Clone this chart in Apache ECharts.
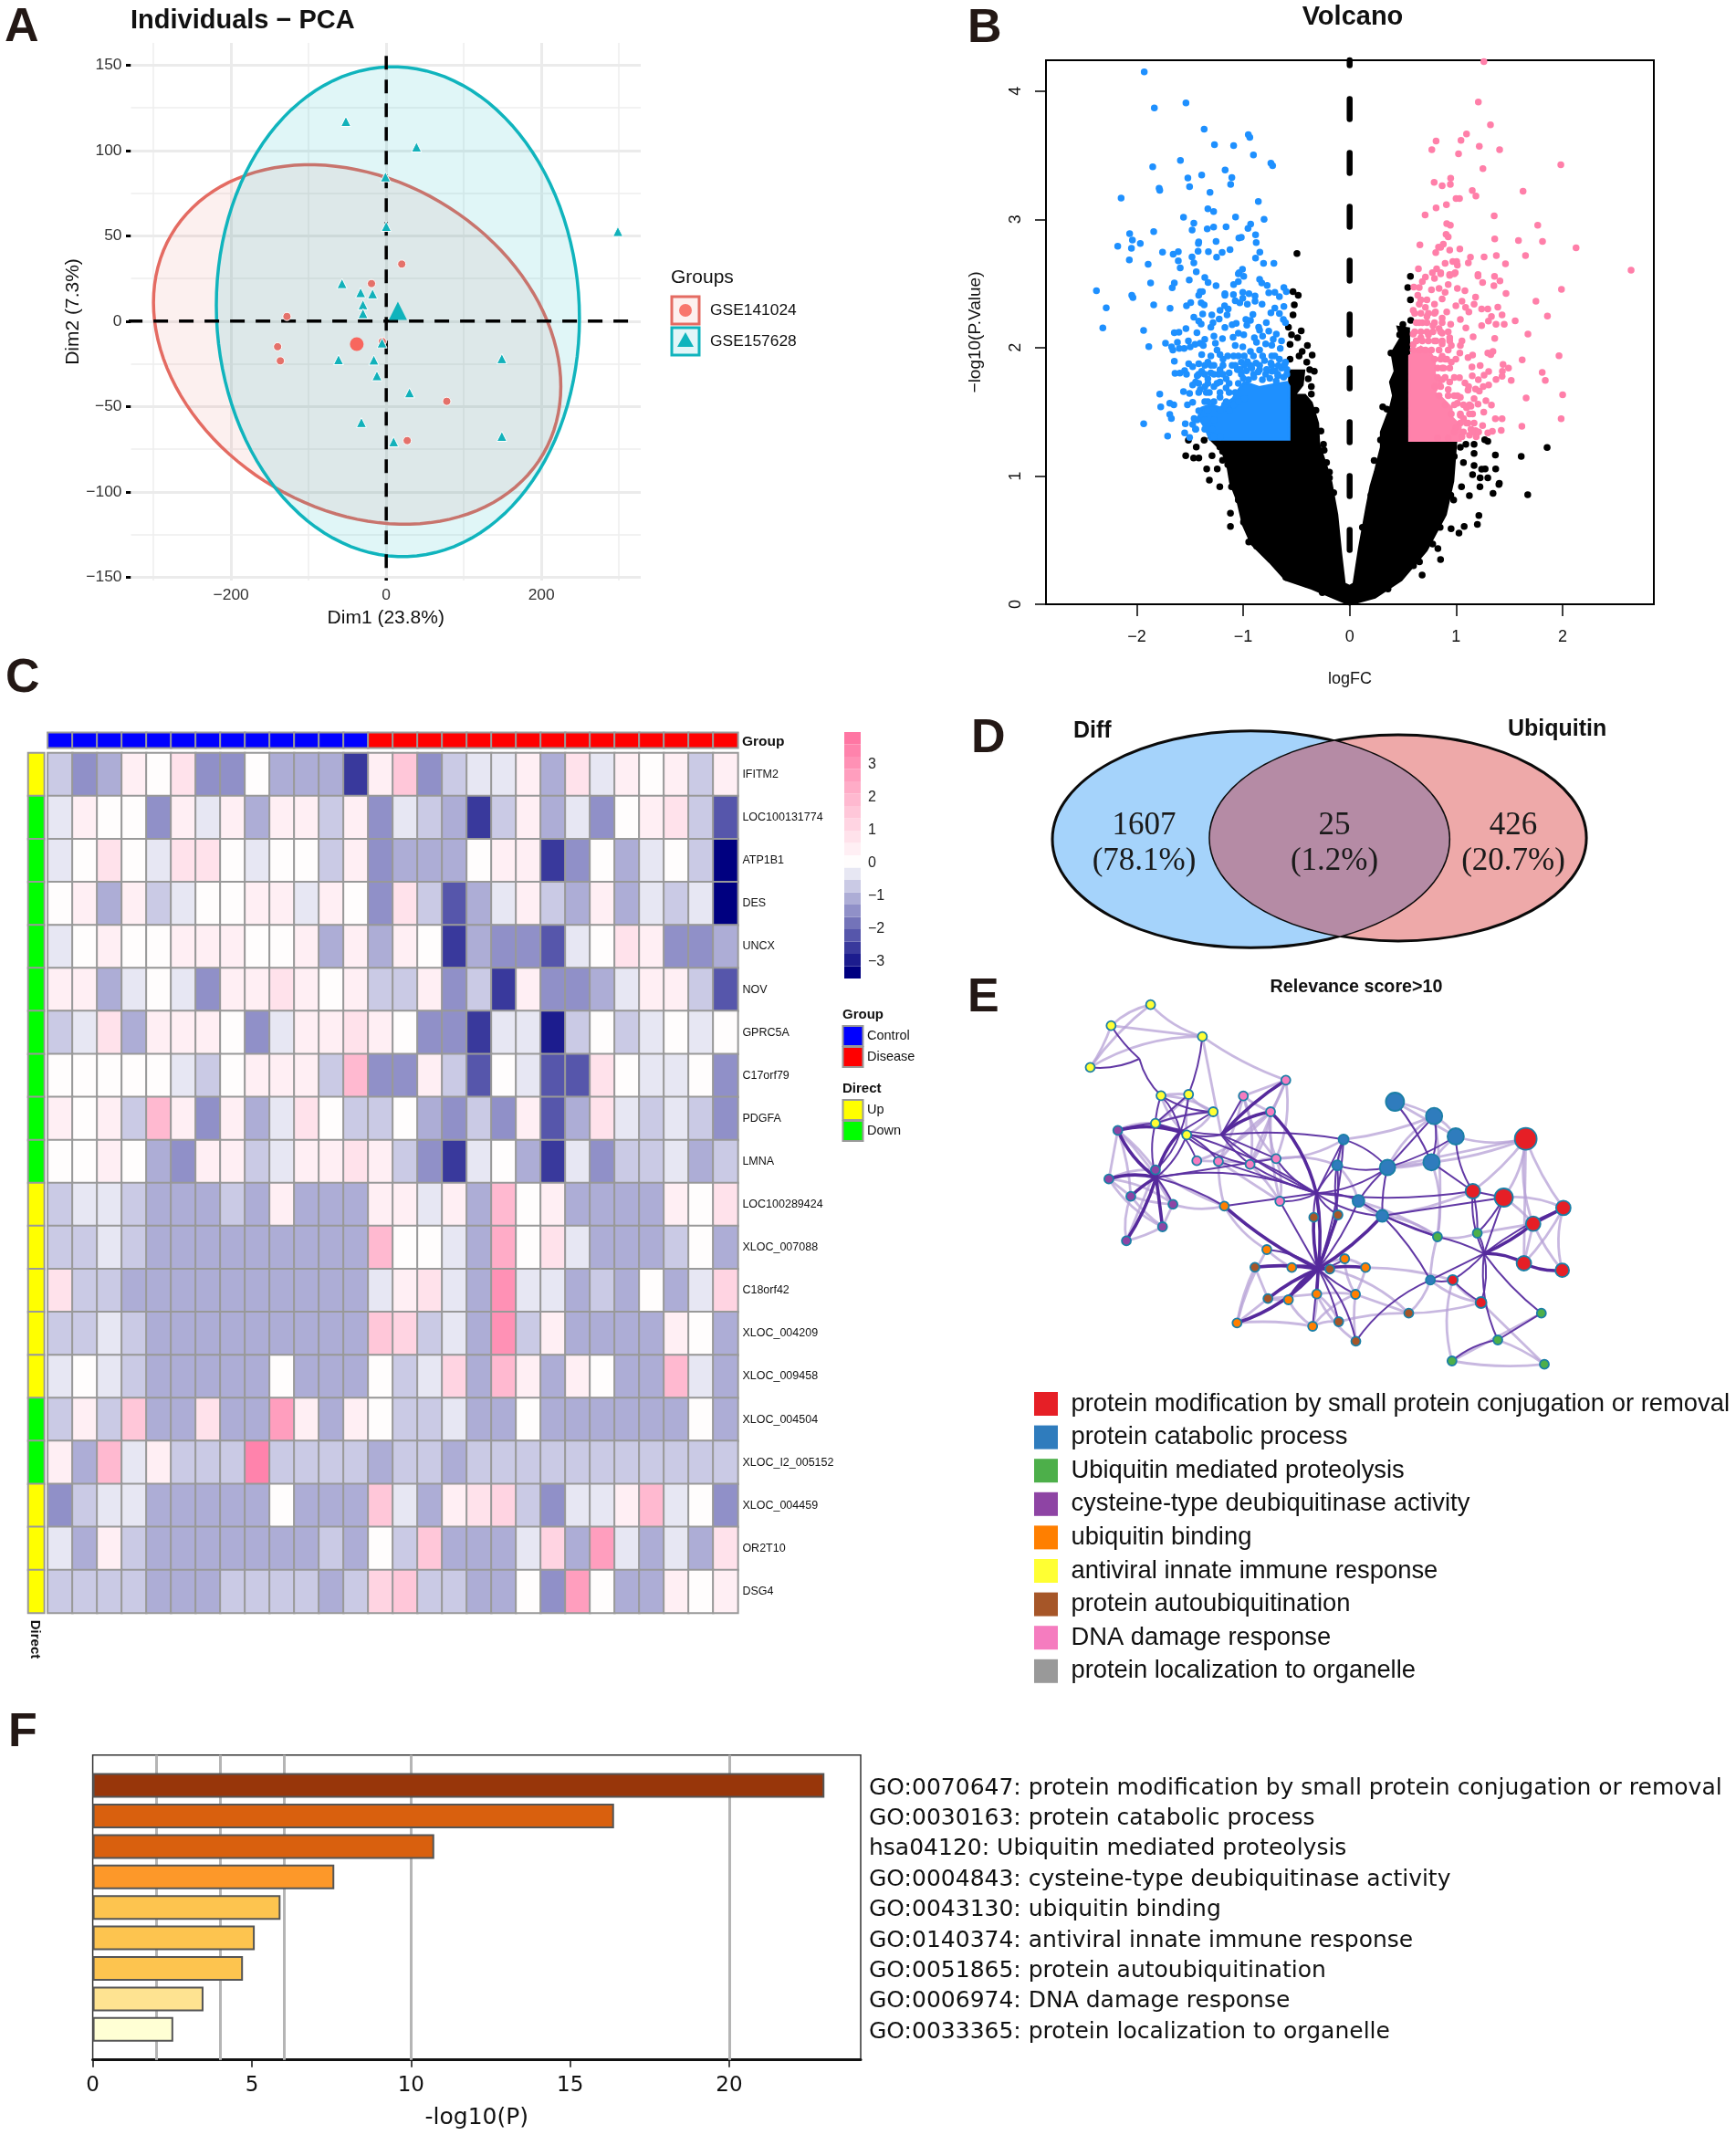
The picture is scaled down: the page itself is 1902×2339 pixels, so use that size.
<!DOCTYPE html>
<html><head><meta charset="utf-8">
<style>html,body{margin:0;padding:0;background:#fff}#c{width:1902px;height:2339px}</style>
<script src="https://cdn.jsdelivr.net/npm/echarts@6/dist/echarts.min.js"></script>
</head><body><div id="c"></div>
<script>
/* ---------- A: PCA ---------- */
/* each ellipse as read: centre x, centre y, half width, half height, phase (deg) */
const pcaRedEllipse=[-37.5,-13.7,262.5,105.3,103.5];
const pcaTealEllipse=[15,5.5,234,143.5,91.5];
const pcaRed=[[20,33.4],[-19,22],[-128,2.7],[-140,-15],[-136.5,-23.3],[-5,-12],[78,-47],[27,-70]];
const pcaRedCentre=[[-38,-13.5]];
const pcaTeal=[[-52,117],[39,102],[-1,84.5],[0,55.5],[298.6,52.5],[-57,22],[-33,16.7],[-17.6,16],[-30,9.6],[-30,4.4],[-5.4,-12.8],[-61.5,-22.6],[-16,-22.8],[149,-22],[-12,-32],[30,-42],[-32,-59.4],[149,-67.5],[9.5,-70.7]];
const pcaTealCentre=[[15,6]];
const pcaXTicks=[-200,0,200], pcaYTicks=[-150,-100,-50,0,50,100,150];
const pcaXMinor=[-300,-100,100,300], pcaYMinor=[-125,-75,-25,25,75,125];

/* ---------- B: Volcano ---------- */
const volBlackMass=[[0,0],[-.355,.124],[-.6,.193],[-.75,.33],[-.92,.47],[-1,.62],[-1.05,.8],[-1.12,.95],[-1.15,1.1],[-1.2,1.2],[-1.31,1.29],[-.569,1.29],[-.565,1.82],[-.43,1.82],[-.445,1.71],[-.52,1.63],[-.42,1.63],[-.36,1.57],[-.3,1.41],[-.29,1.25],[-.23,1.1],[-.175,.95],[-.12,.7],[-.084,.4],[-.05,.16],[0,.14],[.04,.16],[.09,.43],[.16,.75],[.2,.92],[.24,1.033],[.268,1.128],[.297,1.223],[.297,1.342],[.34,1.437],[.383,1.531],[.411,1.626],[.383,1.733],[.426,1.816],[.397,1.958],[.483,2.077],[.454,2.16],[.554,2.148],[.565,1.29],[1,1.29],[.97,.96],[.9,.7],[.72,.42],[.484,.19],[.237,.055]];
const volBlueMass=[[-1.31,1.285],[-1.36,1.38],[-1.42,1.46],[-1.39,1.53],[-1.3,1.555],[-1.22,1.53],[-1.1,1.6],[-1.02,1.7],[-.99,1.73],[-.85,1.69],[-.73,1.71],[-.59,1.73],[-.569,1.7],[-.569,1.285]];
const volPinkMass=[[.563,1.277],[.563,1.935],[.669,2.006],[.755,1.958],[.797,1.911],[.797,1.792],[.869,1.745],[.797,1.65],[.869,1.603],[.955,1.531],[.955,1.46],[1.04,1.389],[1.04,1.277]];
const volBlack=[[-.495,2.733],[.571,2.556],[.546,2.468],[.571,2.373],[.574,2.212],[.311,1.538],[.388,1.958],[1.855,1.221],[1.369,1.164],[1.612,1.152],[1.092,1.247],[1.169,1.247],[1.269,1.282],[1.298,1.27],[1.169,1.176],[1.169,1.081],[1.24,1.052],[1.298,.986],[1.226,.986],[1.406,.943],[1.155,1.01],[1.04,1.223],[.983,1.152],[1.069,1.105],[1.673,.854],[1.402,.934],[1.347,.865],[1.2,.623],[1.214,.692],[1.076,.606],[1.027,.555],[.953,.589],[.854,.348],[.681,.227],[.656,.33],[.829,.434],[.977,.813],[1.051,.916],[1.125,.847],[1.224,.916],[1.372,1.054],[1.273,1.054],[-.676,.296],[-.6,.21],[-.948,.486],[-.874,.451],[-1.12,.606],[-.997,.641],[-1.12,.71],[-1.022,.813],[-1.11,.916],[-1.22,.916],[-1.318,.968],[-1.244,1.054],[-1.343,1.054],[-1.54,1.157],[-1.466,1.14],[-1.417,1.14],[-1.441,1.226],[-1.515,1.278],[-1.367,1.278],[-1.293,1.157],[-1.194,1.123],[-1.219,1.226],[-.532,2.437],[-.483,2.409],[-.52,2.333],[-.532,2.255],[-.575,2.16],[-.455,2.131],[-.546,2.1],[-.489,2.077],[-.56,2.025],[-.397,2.017],[-.446,1.97],[-.352,1.942],[-.475,1.935],[-.56,1.911],[-.403,1.887],[-.332,1.816],[-.375,1.828],[-.389,1.757],[-.36,1.697],[-.36,1.638],[-.317,1.512],[-.246,1.247],[-.217,1.105],[-.19,.986],
[-.948,.606],[-1.046,.813],[-1.096,.985],[-1.145,1.088],[-1.194,1.192],[-.898,.537],[-.8,.4],[-.7,.348],[-.553,.227],[-.405,.158],[-.257,.09],[-.27,1.35],[-.24,1.2],[-.19,1.03],[-.15,.87],[.12,.6],[.2,.85],[.23,1.12],[.29,1.28],[.35,1.52],[.41,1.72],[.95,.85],[.85,.6],[.78,.47],[.6,.3],[.36,.12],[.47,2.1],[.5,2.18]];
const volBlue=[[-1.93,4.149],[-1.835,3.869],[-1.538,3.907],[-1.367,3.703],[-1.27,3.582],[-1.09,3.575],[-.952,3.66],[-.938,3.639],[-.904,3.502],[-1.59,3.459],[-1.85,3.409],[-.74,3.438],[-.724,3.419],[-1.17,3.385],[-1.39,3.345],[-1.52,3.322],[-1.107,3.326],[-1.118,3.272],[-1.504,3.255],[-1.79,3.243],[-1.784,3.226],[-1.312,3.21],[-2.147,3.165],[-.858,3.139],[-1.332,3.082],[-1.278,3.061],[-1.561,3.016],[-1.072,3.018],[-.804,3],[-1.464,2.971],[-.93,2.963],[-.955,2.93],[-1.48,2.916],[-1.338,2.926],[-1.278,2.94],[-1.161,2.942],[-2.067,2.888],[-1.841,2.904],[-.884,2.88],[-1.041,2.854],[-1.018,2.859],[-2.041,2.838],[-1.418,2.824],[-1.421,2.812],[-1.255,2.828],[-.878,2.819],[-1.967,2.812],[-2.179,2.79],[-2.05,2.774],[-1.758,2.745],[-1.658,2.729],[-1.61,2.748],[-1.424,2.752],[-1.327,2.748],[-1.198,2.743],[-1.124,2.764],[-.844,2.745],[-1.481,2.707],[-1.25,2.705],[-.884,2.698],[-2.07,2.684],[-1.61,2.677],[-1.893,2.65],[-1.464,2.66],[-.809,2.658],[-.712,2.658],[-1.592,2.622],[-1.441,2.591],[-1.007,2.61],[-1.038,2.584],
[-2.379,2.444],[-2.287,2.311],[-2.319,2.153],[-2.047,2.409],[-2.036,2.39],[-1.87,2.504],[-1.841,2.333],[-1.687,2.307],[-1.936,2.134],[-1.887,2.008],[-1.647,2.504],[-1.667,2.466],[-1.507,2.527],[-1.361,2.546],[-1.33,2.508],[-1.255,2.482],[-1.533,2.326],[-1.493,2.352],
[-1.404,2.437],[-1.384,2.437],[-1.418,2.409],[-1.395,2.349],[-1.367,2.333],[-1.172,2.42],[-1.172,2.409],[-1.092,2.413],[-1.004,2.432],[-.946,2.42],[-.889,2.402],[-1.004,2.385],[-1.075,2.366],[-1.032,2.349],[-.961,2.338],[-.889,2.361],[-.823,2.338],[-.846,2.532],[-.826,2.504],[-.775,2.485],[-.76,2.428],[-.703,2.432],[-.66,2.397],[-.618,2.468],[-.595,2.437],[-1.046,2.575],[-.995,2.556],[-1.046,2.515],[-1.09,2.492],[-.618,2.321],[-.703,2.309],[-.74,2.271],[-.66,2.266],[-.623,2.219],[-.603,2.195],[-.909,2.259],[-.975,2.219],[-.932,2.212],[-.966,2.176],[-.783,2.195],[-.76,2.129],[-.855,2.16],[-.846,2.136],[-1.175,2.326],[-1.218,2.29],[-1.141,2.302],[-1.152,2.255],[-1.295,2.255],[-1.226,2.224],[-1.284,2.195],[-1.304,2.16],[-1.464,2.238],[-1.381,2.262],[-1.418,2.207],[-1.395,2.184],[-1.172,2.157],[-1.104,2.179],[-1.066,2.19],[-1.538,2.148],[-1.647,2.117],[-1.604,2.12],[-1.435,2.117],[-1.275,2.089],[-1.195,2.07],[-1.261,2.034],[-1.095,2.081],[-1.046,2.112],[-.995,2.1],[-.895,2.077],[-.875,2.041],[-.818,2.089],[-.789,2.03],[-.689,2.105],[-.64,2.053],[-.718,2.065],[-.652,1.994],[-.732,2.018],[-1.73,2.034],[-1.673,2.006],[-1.618,2.041],[-1.661,1.982],[-1.601,1.994],[-1.555,1.994],[-1.515,2.053],[-1.498,2.006],[-1.452,2.025],[-1.404,2.034],[-1.361,2.065],[-1.375,2.017],[-1.39,1.946],[-1.246,1.982],[-1.218,1.946],[-1.075,2.017],[-1.146,1.935],[-1.09,1.935],[-1.004,2.006],[-.932,1.97],[-.846,1.982],[-.732,1.935],[-.66,1.911],[-.603,1.887],[-1.647,1.894],[-1.641,1.8],[-1.595,1.802],[-1.55,1.821],[-1.512,1.875],[-1.475,1.852],[-1.418,1.875],[-1.332,1.887],[-1.275,1.863],[-1.218,1.828],[-1.132,1.804],[-1.055,1.828],[-1.046,1.935],[-1.561,1.657],[-1.504,1.643],[-1.784,1.638],[-1.775,1.538],[-1.69,1.567],[-1.652,1.555],[-1.524,1.555],[-1.475,1.574],[-1.69,1.479],[-1.675,1.448],[-1.935,1.406],[-1.71,1.311],[-1.544,1.406],[-1.55,1.335],[-1.504,1.3],[-1.461,1.448],[-1.475,1.401],[-1.447,1.365],[-1.447,1.733],[-1.475,1.709],[-1.404,1.674],[-1.432,1.78],[-1.332,1.757],[-1.218,1.733],[-1.161,1.686],[-1.318,1.65],[-1.218,1.614],[-1.332,1.579],[-1.175,1.555],[-1.09,1.555],[-.989,1.602],[-.932,1.863],[-.846,1.828],[-.732,1.816],[-.675,1.78],[-1.36,1.697],[-1.275,1.697],[-1.39,1.816],[-1.304,1.804],[-1.232,1.792],[-1.16,1.757],[-1.104,1.863],[-1.018,1.887],[-1.304,1.935],[-1.19,1.911],
[-.99,1.935],[-.904,1.935],[-.818,1.935],[-.703,1.935],[-1.361,1.863],[-1.304,1.863],[-1.19,1.863],[-1.075,1.863],[-.99,1.863],[-.846,1.863],[-.732,1.863],[-1.533,1.792],[-1.418,1.792],[-1.361,1.792],[-1.275,1.792],[-1.19,1.792],[-1.018,1.792],[-.903,1.792],[-.789,1.792],[-.675,1.792],[-.59,1.792],[-1.418,1.721],[-1.332,1.721],[-1.246,1.721],[-1.132,1.721],[-1.046,1.721],[-1.418,1.65],[-1.347,1.65],[-1.218,1.65],[-1.132,1.65],[-1.075,1.65],[-1.361,1.579],[-1.275,1.579],[-1.16,1.579],[-1.046,1.579],[-1.418,1.508],[-1.332,1.508],[-1.218,1.508],[-1.132,1.508],[-1.432,1.437],[-1.361,1.437],[-1.275,1.437],[-1.447,1.365],[-1.361,1.365],[-1.29,1.365],[-1.275,1.306],[-1.218,1.306],
[-1,1.76],[-.95,1.75],[-.9,1.77],[-.82,1.75],[-.75,1.76],[-.69,1.74],[-.62,1.77],[-1.03,1.83],[-.97,1.82],[-.92,1.84],[-.86,1.81],[-.78,1.83],[-.7,1.82],[-.64,1.84],[-.59,1.83],[-.96,1.89],[-.88,1.88],[-.8,1.9],[-.74,1.88],[-.67,1.86],[-.61,1.87]];
const volPink=[[1.261,4.229],[1.209,3.914],[1.323,3.736],[1.098,3.665],[1.046,3.615],[.812,3.61],[.772,3.542],[1.218,3.57],[1.409,3.542],[1.023,3.511],[1.252,3.395],[1.984,3.426],[.949,3.321],[.794,3.288],[.869,3.262],[.946,3.272],[1.152,3.224],[1.186,3.182],[1.629,3.22],[1,3.163],[1.032,3.163],[.909,3.115],[.812,3.089],[.709,3.035],[1.358,3.027],[.912,2.966],[.946,2.954],[1.767,2.954],[.906,2.883],[.926,2.864],[1.363,2.847],[1.586,2.835],[1.812,2.828],[2.127,2.778],[.66,2.802],[.88,2.807],[.835,2.783],[.855,2.781],[.809,2.741],[.94,2.76],[1.035,2.769],[1.135,2.705],[1.263,2.707],[1.378,2.717],[1.652,2.717],[.969,2.672],[1.006,2.672],[1.012,2.643],[.897,2.657],[1.115,2.66],[1.464,2.653],[.646,2.615],[.817,2.615],[2.644,2.603],[.777,2.584],[.855,2.584],[.992,2.584],[.94,2.57],[1.206,2.57],
[.712,2.551],[.683,2.515],[.654,2.468],[.603,2.473],[.797,2.539],[.855,2.575],[.94,2.563],[.983,2.575],[1.206,2.558],[1.361,2.556],[1.412,2.52],[1.249,2.508],[1.355,2.482],[1.99,2.454],[1.469,2.423],[.926,2.492],[.84,2.461],[.769,2.451],[.897,2.432],[1.012,2.461],[1.083,2.444],[1.183,2.394],[.64,2.409],[.726,2.373],[.869,2.38],[1.75,2.361],[1.055,2.361],[.998,2.326],[1.169,2.338],[1.089,2.314],[1.12,2.278],[1.24,2.302],[1.298,2.302],[1.392,2.316],[1.432,2.255],[1.858,2.247],[.597,2.29],[.654,2.338],[.806,2.278],[.912,2.278],[.869,2.231],[1.332,2.243],[1.304,2.207],[1.555,2.209],[1.04,2.219],[1.375,2.183],[1.452,2.183],[1.24,2.172],[1.092,2.153],[.626,2.195],[.949,2.183],[1.675,2.105],[.597,2.105],[1.16,2.084],[1.363,2.072],[1.055,2.053],[1.04,2.017],[.597,2.024],[.869,2.112],[.94,2.077],[.955,2.017],[1.326,1.946],[1.298,1.958],[1.346,1.97],[1.035,1.958],[1.155,1.942],[1.112,1.923],[1.967,1.937],[1.621,1.904],[.897,1.911],[.955,1.887],[1.226,1.861],[1.149,1.849],[1.441,1.87],[1.492,1.84],[1.435,1.816],[1.306,1.814],[1.263,1.785],[1.152,1.78],[1.809,1.807],[1.432,1.776],[1.375,1.752],[1.209,1.75],[1.838,1.745],[1.518,1.745],[1.032,1.766],[1.083,1.726],[.869,1.75],[.94,1.733],[1.306,1.709],[1.255,1.697],[1.118,1.697],[1.183,1.678],[1.112,1.669],[1.218,1.662],[1.658,1.607],[2.001,1.633],[1.169,1.603],[1.28,1.586],[1.332,1.553],[1.206,1.56],[1.14,1.543],[1.098,1.531],[1.04,1.614],[.983,1.626],[.926,1.674],[1.012,1.567],[1.26,1.498],[1.155,1.484],[1.04,1.472],[1.069,1.448],[1.369,1.446],[1.432,1.446],[1.987,1.446],[1.249,1.392],[1.618,1.387],[1.424,1.356],[1.341,1.349],[1.298,1.335],[1.112,1.413],[1.14,1.365],[1.183,1.353],[1.055,1.306],[1.189,1.306],[1.126,1.318],[.998,1.377],
[.726,2.243],[.783,2.172],[.683,2.195],[.74,2.1],[.669,2.077],[.812,2.053],[.712,2.314],[.797,2.338],[.669,2.373],[.84,2.148],[.626,2.053],[.869,2.03],[.926,1.982],[.869,1.84],[.869,1.934],
[.611,2.267],[.669,2.267],[.74,2.267],[.797,2.267],[.654,2.195],[.726,2.195],[.797,2.195],[.869,2.195],[.611,2.124],[.669,2.124],[.726,2.124],[.783,2.124],[.854,2.124],[.926,2.124],[.626,2.053],[.683,2.053],[.74,2.053],[.797,2.053],[.869,2.053],[.94,2.053],[.597,1.982],[.654,1.982],[.712,1.982],[.769,1.982],[.84,1.982],[.797,1.911],[.855,1.911],[.912,1.911],[.998,1.911],[.826,1.84],[.883,1.84],[.94,1.84],[.826,1.768],[.897,1.768],[.983,1.768],[.8,1.697],[.855,1.697],[.84,1.626],[.926,1.626],[1.012,1.626],[.897,1.555],[.983,1.555],[1.069,1.555],[1.126,1.555],[.955,1.484],[1.04,1.484],[1.126,1.484],[1.04,1.413],[1.098,1.413],[1.169,1.413],[.983,1.342],[1.069,1.342],[1.155,1.342],[1.212,1.342],[.826,1.294],[.926,1.294]];
const volXTicks=[-2,-1,0,1,2], volYTicks=[0,1,2,3,4];

/* ---------- C: Heatmap ---------- */
const geneNames=['IFITM2','LOC100131774','ATP1B1','DES','UNCX','NOV','GPRC5A','C17orf79','PDGFA','LMNA','LOC100289424','XLOC_007088','C18orf42','XLOC_004209','XLOC_009458','XLOC_004504','XLOC_I2_005152','XLOC_004459','OR2T10','DSG4'];
const heatRows=[
[-.6,-1.3,-1,.4,.1,.8,-1.3,-1.6,.1,-1,-1,-.9,-2.4,.4,1.6,-1.6,-.6,-.2,-.2,.4,-1,.7,-.2,.4,.1,.4,-.6,.6],
[-.2,.4,.1,.1,-1.6,.6,-.2,.6,-1,.6,.6,-.6,.6,-1.6,-.2,-.6,-1,-2.4,-.6,.4,-1,-.2,-1.3,.1,.4,1,-.6,-2],
[-.2,.1,1,.1,-.2,.7,.7,.1,-.2,.1,.1,-.6,.4,-1.3,-1,-1,-1,.1,.6,.5,-2.4,-1.3,.1,-1,-.2,.1,-.6,-3.3],
[.1,.4,-1,.4,-.6,-.2,.1,.1,.4,.4,-.2,.6,.1,-1.3,1,-.6,-2,-1,-.2,.4,-.6,-1,.4,-1,-.2,-.6,-.2,-3.45],
[-.2,.1,.3,.1,.1,.6,.6,.4,.1,.1,.6,-1,.3,-1,.3,.1,-2.4,-1,-1.3,-1.6,-2,-.2,.1,1,.3,-1.3,-1.3,-1.2],
[.3,.4,-1,-.2,.1,-.2,-1.6,.6,.3,.9,.6,.1,.6,-.6,-.6,.3,-1.3,-.6,-2.4,.3,-1.6,-1.3,-1,-.2,.3,.3,-.6,-2],
[-.6,-.2,1,-1,.6,.3,.3,.1,-1.6,-.2,.3,.3,.7,.3,.1,-1.6,-1.3,-2.4,-.2,-.2,-2.9,-.6,.1,-.6,-.2,.1,-.2,.1],
[.1,.1,.1,.1,.1,-.2,-.6,.1,.3,.3,.4,-.6,2.1,-1.3,-1.3,.3,-.6,-2,.1,-.2,-2.2,-2,.7,.1,-.2,-.2,.1,-1.6],
[.3,.1,.6,-.6,1.9,.3,-1.3,.6,-1,-.2,.8,.1,-.6,-.6,.1,-1,-1.6,-.6,-1.6,.3,-2,-1,1,-.2,-.6,-.2,-.6,-1.6],
[.1,.1,.6,.1,-1,-1.3,.5,.6,-.6,-.2,.6,.3,1,.6,-.6,-1.6,-2.4,-.2,.1,-1,-2.4,-.2,-1.3,-.6,-.6,-.2,-1,-.6],
[-.6,-.2,-.2,-.6,-1.2,-1.2,-1.2,-.6,-1.2,.3,-1.2,-1.2,-1,.6,.6,-.2,.3,-1.2,2.1,.1,.3,-1.2,-1.2,-1,-1,.3,.1,1],
[-.6,-.6,-.2,-.6,-1,-1,-1,-.9,-.9,-.9,-.9,-.9,-.9,2.1,.1,.1,-.2,-1,2.5,.1,1,-.2,-.9,-.9,-.9,-.6,.1,-.9],
[.7,-.6,-.6,-.9,-.9,-.9,-.9,-.9,-.9,-.9,-.9,-.9,-.9,-.2,.6,1,-.2,-.9,3,-.2,-.2,-.9,-.6,-.9,.1,-.9,-.2,1.2],
[-.6,-.6,-.2,-.6,-.9,-.9,-.9,-.9,-.9,-.9,-.9,-.9,-.9,1.4,1.3,-.6,-.2,-.9,3,-.6,.3,-.9,-.9,-.9,-.9,.3,.1,-.9],
[-.2,.1,-.2,-.6,-.9,-.9,-.9,-.9,-.9,.05,-.9,-.9,-.9,.05,-.6,-.2,1.1,-.9,2,.3,-.9,.6,.1,-.9,-.9,2,-.2,-.9],
[-.6,.6,-.6,1.5,-.9,-.9,1,-.9,-.9,2.6,.6,-.9,.3,.1,-.6,-.6,-.2,-.9,-.9,.1,-.9,-.9,-.9,-.9,-.9,-.9,.1,-.9],
[.3,-.9,1.9,-.2,.6,-.6,-.6,-.6,3.6,-.6,-.6,-.6,-.6,-.9,-.6,-.6,-.9,-.6,-.6,-.6,-.6,-.6,-.6,-.6,-.6,-.6,-.6,-.6],
[-1.3,-.6,-.2,-.2,-.9,-.9,-.9,-.9,-.9,.05,-.9,-.9,-.9,1.5,-.2,-.9,.3,1,1.1,-.6,-1.3,-.2,-.2,.3,2,-.2,.1,-1.3],
[-.2,-.9,.6,-.6,-.9,-.9,-.9,-.9,-.9,-.9,-.9,-.6,-.9,.1,-.6,1.5,-.9,-.9,-.9,-.2,1.2,-.9,2.8,-.2,-.9,-.2,-.9,1],
[-.6,-.6,-.6,-.6,-.9,-.9,-.9,-.6,-.6,-.6,-.6,-.9,-.6,1.1,1.6,-.6,-.6,-.9,-.9,.05,-1.3,2.8,.05,-.9,-.9,.3,.1,.3]];
const sampleGroup=['Control','Control','Control','Control','Control','Control','Control','Control','Control','Control','Control','Control','Control','Disease','Disease','Disease','Disease','Disease','Disease','Disease','Disease','Disease','Disease','Disease','Disease','Disease','Disease','Disease'];
const geneDirect=['Up','Down','Down','Down','Down','Down','Down','Down','Down','Down','Up','Up','Up','Up','Up','Down','Down','Up','Up','Up'];
const scaleTicks=[-3,-2,-1,0,1,2,3];

/* ---------- E: network ---------- */
const enrichGroups=['protein modification by small protein conjugation or removal','protein catabolic process','Ubiquitin mediated proteolysis','cysteine-type deubiquitinase activity','ubiquitin binding','antiviral innate immune response','protein autoubiquitination','DNA damage response','protein localization to organelle'];
const netNodes=[
['y1',320,62,5],['y2',214,131,5],['y3',459,167,5],['y4',158,268,5],['y5',348,361,5],['y6',422,357,5],['y7',488,414,5],['y8',333,452,5],['y9',417,490,5],
['k1',683,310,7],['k2',569,362,7],['k3',642,414,7],['k4',444,575,7],['k5',502,577,7],['k6',587,587,7],['k7',657,568,7],['k8',667,708,7],
['p1',232,475,3],['p2',208,635,3],['p3',267,692,3],['p4',380,718,3],['p5',352,792,3],['p6',255,838,3],['p7',333,605,3],
['o1',518,724,4],['o2',632,867,4],['o3',699,926,4],['o4',841,897,4],['o5',897,926,4],['o6',870,1014,4],['o7',766,1013,4],['o8',690,1032,4],['o9',552,1108,4],['o10',755,1119,4],
['b1',758,761,6],['b2',823,753,6],['b3',600,925,6],['b4',801,931,6],['b5',635,1028,6],['b6',825,1104,6],['b7',871,1168,6],['b8',1013,1076,6],
['u1',838,505,1],['u2',821,590,1],['u3',976,381,1],['u4',1081,428,1],['u5',1139,495,1],['u6',1074,580,1],['u7',956,597,1],['u8',878,707,1],['u9',942,756,1],['u10',1071,967,1],
['g1',1090,825,2],['g2',1197,813,2],['g3',1369,1076,2],['g4',1252,1164,2],['g5',1129,1233,2],['g6',1377,1244,2],
['r1',1327,503,0],['r2',1185,675,0],['r3',1268,696,0],['r4',1428,730,0],['r5',1347,782,0],['r6',1322,912,0],['r7',1425,935,0],['r8',1131,967,0],['r9',1207,1041,0],
['hA',290,240,-1],['hB',400,480,-1],['hC',335,630,-1],['hD',510,490,-1],['hE',765,682,-1],['hF',770,930,-1],['hG',1215,880,-1]];
const netNodeSize={u3:20,u4:18,u5:18,u6:18,u7:17,u8:13,u9:13,u1:11,u2:11,r1:24,r2:16,r3:20,r4:16,r5:16,r6:16,r7:15,r8:11,r9:12};
const netStrong='hF-o3 hF-b3 hF-b4 hF-o5 hF-o9 hF-o8 hF-b5 hF-o7 hE-hF hC-p1 hC-p2 hC-p3 hC-p5 hC-p6 hG-r6 r6-r7 hG-r5 r4-r5 hD-k1 hD-k3 hE-k3 o1-hF hF-b2 hF-b1 hC-hB hB-p1 hF-u9'.split(' ');
const netDark='hF-o4 hF-o6 hF-o10 hF-b6 hF-b7 hF-o2 hE-b1 hE-u1 hE-u2 hE-u8 hE-u9 hE-r2 hE-o1 hE-hD hE-k8 hE-b2 hF-u8 k8-hF hC-p4 hC-p7 hB-y5 hB-y6 hB-y7 hB-y8 hB-y9 hB-hD y8-hD hD-k2 hA-y2 hA-y4 hA-y5 y6-y3 hC-k7 hC-o1 u1-u7 u2-u7 u7-u5 u7-u4 u3-u6 u4-u6 u5-r2 u7-u9 hG-r3 hG-r4 hG-r2 hG-g2 hG-g1 hG-u10 hG-r8 hG-r9 hG-g4 hG-g3 g4-g3 u9-u10 b7-u10 u10-r8 r8-r9 r2-r3 r2-g2 g5-g4 u1-b2 u1-hD u9-g1 hB-k4 hB-k5 hB-k6 hD-k6 hD-k7 hB-hE hC-hE k7-hE k6-hE k5-hE y8-y7 hB-p7 hE-u7 u7-u8 u6-r2 u1-hF u2-hF y5-y7 y5-y8 y6-y8 p1-y8 hC-y8 hC-y9 u8-g1 u9-r3 r3-g2'.split(' ');
const netLight='y1-y2 y1-y4 y2-y3 y2-y4 y4-y3 y1-y3 y3-k1 y3-hD y5-y6 y5-y7 y6-y7 y7-y8 y8-y9 y6-y8 y7-y9 y5-y9 y6-y9 k1-k2 k1-k3 k1-k7 k3-k7 k2-k3 k4-k5 k5-k6 k6-k7 k4-k3 k5-o1 k5-k8 k6-k8 k7-k8 k6-k3 k3-k5 k1-k6 k2-k5 k2-k6 k2-k7 k3-k8 p1-p2 p1-p7 p2-p7 p3-p6 p3-p5 p4-p5 p5-p6 p1-y8 p4-o1 p7-o1 p2-p3 p1-p3 p2-p4 p2-p5 p3-p4 p6-p7 p1-p4 p4-p7 o1-o2 o2-o9 o3-o4 o9-o10 o10-o6 o8-o10 b3-o9 b5-o7 o5-o6 b4-b8 b8-u10 o2-o3 b3-b5 o8-b5 o4-o5 o4-o6 o6-o7 o9-b5 b7-o6 b7-o7 b6-o7 o10-o7 u1-u2 u3-u4 u4-u5 u5-r1 u6-r1 u7-r1 r1-r2 r1-r3 r1-r5 r1-r4 r1-r6 r3-r5 r3-r4 r4-r7 r5-r7 r5-r6 r4-r6 u1-k7 u2-k7 u1-u4 u7-u6 u4-g1 u6-g1 g1-g2 g1-u10 g2-r5 u8-g1 u9-g1 r8-r9 g5-g6 g5-g3 g4-g6 g5-r8 u10-r9 b8-r9 g6-r9 o5-r8 u2-u8 u8-u9 u9-r2 o6-b8 b6-b8 o10-b6 u4-u7 u5-u6 u3-u5 u6-u7'.split(' ');

/* ---------- F: enrichment bars ---------- */
const termLabels=['GO:0070647: protein modification by small protein conjugation or removal','GO:0030163: protein catabolic process','hsa04120: Ubiquitin mediated proteolysis','GO:0004843: cysteine-type deubiquitinase activity','GO:0043130: ubiquitin binding','GO:0140374: antiviral innate immune response','GO:0051865: protein autoubiquitination','GO:0006974: DNA damage response','GO:0033365: protein localization to organelle'];
const termValues=[22.99,16.38,10.73,7.59,5.9,5.09,4.72,3.48,2.53];
const barXTicks=[0,5,10,15,20], barGridLines=[2,4,6,10,20];

/* ---------- styling ---------- */
const SANS='"Liberation Sans",Arial,sans-serif', SERIF='"Liberation Serif",serif', DEJAVU='"DejaVu Sans",sans-serif';
const barColors=['#98360a','#d9600e','#d9600e','#fd9829','#fdc44f','#fdc44f','#fdc44f','#fee391','#ffffd4'];
const groupColors=['#e61f26','#2f7cbd','#4daf4a','#8e44a4','#ff7f00','#ffff33','#a65628','#f57cbf','#999999'];
const RED='#e46b62', TEAL='#10b4bd', MINUS=v=>String(v).replace('-','\u2212');

function mix(c,t){const w=[255,255,255];return 'rgb('+c.map((x,i)=>Math.round(w[i]+(x-w[i])*t)).join(',')+')';}
const SCALE_LO=-3.5, SCALE_HI=4, BINS=20, STEP=(SCALE_HI-SCALE_LO)/BINS;
function binColor(i){const c=SCALE_LO+(i+.5)*STEP;return c<0?mix([0,0,128],Math.min(1,-c/3.3)):mix([255,118,163],Math.min(1,c/3.8));}
const bins=[];for(let i=0;i<BINS;i++)bins.push(i);
const heatData=[];heatRows.forEach((r,y)=>r.forEach((v,x)=>heatData.push([x,y,v])));

const txt=(t,x,y,font,o={})=>({type:'text',x,y,rotation:o.rot||0,z:50,style:{text:t,font,fill:o.fill||'#111',textAlign:o.align||'left',textVerticalAlign:'middle'}});
const rect=(x,y,w,h,fill,stroke,lw)=>({type:'rect',z:40,shape:{x,y,width:w,height:h},style:{fill,stroke:stroke||null,lineWidth:lw||0}});

/* venn geometry */
const L={cx:1370.3,cy:919.5,rx:217.3,ry:118.8}, R={cx:1531.9,cy:918,rx:206.2,ry:113};
const lens=[];
for(let a=-65;a<=63;a+=4){const t=a*Math.PI/180;lens.push([L.cx+L.rx*Math.cos(t),L.cy+L.ry*Math.sin(t)]);}
for(let a=108;a<=250.6;a+=4){const t=a*Math.PI/180;lens.push([R.cx+R.rx*Math.cos(t),R.cy+R.ry*Math.sin(t)]);}
const ell=(E,fill,stroke)=>({type:'ellipse',z:30,shape:{cx:E.cx,cy:E.cy,rx:E.rx,ry:E.ry},style:{fill:fill||'none',stroke:stroke||null,lineWidth:stroke?3:0}});

const letters=[['A',5,31],['B',1060,32],['C',6,744],['D',1064,810],['E',1060,1094],['F',9,1899]].map(a=>txt(a[0],a[1],a[2],'bold 52px '+SANS,{fill:'#231815'}));

const graphic=[...letters,
 txt('Individuals \u2212 PCA',143,23,'bold 29px '+SANS),
 txt('Groups',735,304,'21px '+SANS),
 rect(736,325,30,30,'#fdf0ef',RED,3),rect(736,359,30,30,'#e2f6f8',TEAL,3),
 {type:'circle',z:41,shape:{cx:751,cy:340,r:7},style:{fill:'#f8766d'}},
 {type:'polygon',z:41,shape:{points:[[751,364],[760,380],[742,380]]},style:{fill:TEAL}},
 txt('GSE141024',778,340,'17.4px '+SANS),txt('GSE157628',778,374,'17.4px '+SANS),
 txt('Volcano',1482,19,'bold 29px '+SANS,{align:'center'}),
 txt('Group',813,813,'bold 15.5px '+SANS),
 txt('Direct',38,1796,'bold 15px '+SANS,{rot:-Math.PI/2,align:'center'}),
 txt('Group',923,1112,'bold 15px '+SANS),
 rect(923.5,1124,22,22,'#0000ff','#999',2),rect(923.5,1147,22,22,'#ff0000','#999',2),
 txt('Control',950,1135,'14.5px '+SANS),txt('Disease',950,1158,'14.5px '+SANS),
 txt('Direct',923,1193,'bold 15px '+SANS),
 rect(923.5,1205,22,22,'#ffff00','#999',2),rect(923.5,1228,22,22,'#00ff00','#999',2),
 txt('Up',950,1216,'14.5px '+SANS),txt('Down',950,1239,'14.5px '+SANS),
 ell(L,'#a5d3fb'),ell(R,'#eea9a9'),
 {type:'polygon',z:31,shape:{points:lens},style:{fill:'#b58ba5'}},
 ell(L,null,'#0b0b0b'),ell(R,null,'#0b0b0b'),
 txt('Diff',1176,801,'bold 25px '+SANS),txt('Ubiquitin',1652,799,'bold 25px '+SANS),
 ...[['1607',1253.5,905],['(78.1%)',1253.5,944],['25',1462,905],['(1.2%)',1462,944],['426',1658,905],['(20.7%)',1658,944]].map(a=>txt(a[0],a[1],a[2],'35px '+SERIF,{align:'center',fill:'#1a1a1a'})),
 txt('Relevance score>10',1486,1082,'bold 19.7px '+SANS,{align:'center'}),
 ...enrichGroups.flatMap((g,i)=>[rect(1133,1525+i*36.6,26,26,groupColors[i]),txt(g,1173.4,1538+i*36.6,'27.4px '+SANS)])
];

/* grids */
const grid=[
 {left:143.5,top:47,width:558.5,height:589},
 {left:1146,top:66,width:666,height:596,show:true,borderColor:'#000',borderWidth:2,backgroundColor:'transparent'},
 {left:52.4,top:825,width:756,height:942},
 {left:52.4,top:802.7,width:756,height:16.6},
 {left:31,top:825,width:17.4,height:942},
 {left:925,top:802,width:18,height:288},
 {left:1130,top:1080,width:640,height:440},
 {left:101.6,top:1922.7,width:841.4,height:334,show:true,borderColor:'#333',borderWidth:1.5,backgroundColor:'transparent'}
];
const hiddenCat=(n,ex)=>Object.assign({type:'category',data:Array.from({length:n},(_,i)=>i),show:false},ex);
const lineOff={show:true,onZero:false,lineStyle:{color:'rgba(0,0,0,0)',width:0.01}};
const xAxis=[
 {gridIndex:0,type:'value',min:-329,max:328,axisLine:lineOff,splitLine:{show:false},axisTick:{show:false},
  axisLabel:{customValues:pcaXTicks,formatter:MINUS,color:'#333',fontSize:17.4,fontFamily:SANS,margin:8},
  name:'Dim1 (23.8%)',nameLocation:'middle',nameGap:31,nameTextStyle:{fontSize:21,fontFamily:SANS,color:'#111'}},
 {gridIndex:1,type:'value',min:-2.853,max:2.858,axisLine:{show:true,onZero:false,lineStyle:{color:'#000',width:2}},splitLine:{show:false},
  axisTick:{show:true,customValues:volXTicks,length:13,lineStyle:{color:'#000',width:1.5}},
  axisLabel:{customValues:volXTicks,formatter:MINUS,color:'#111',fontSize:18,fontFamily:SANS,margin:27},
  name:'logFC',nameLocation:'middle',nameGap:73,nameTextStyle:{fontSize:18,fontFamily:SANS,color:'#111'}},
 hiddenCat(28,{gridIndex:2}),hiddenCat(28,{gridIndex:3}),hiddenCat(1,{gridIndex:4}),
 {gridIndex:5,type:'category',data:[0],show:false},
 {gridIndex:6,type:'value',min:0,max:1568,show:false},
 {gridIndex:7,type:'value',min:0,max:24.13,axisLine:{show:true,onZero:false,lineStyle:{color:'#111',width:3}},splitLine:{show:false},
  axisTick:{show:true,customValues:barXTicks,length:8,lineStyle:{color:'#111',width:1.5}},
  axisLabel:{customValues:barXTicks,color:'#111',fontSize:23,fontFamily:DEJAVU,margin:17},
  name:'-log10(P)',nameLocation:'middle',nameGap:51,nameTextStyle:{fontSize:25,fontFamily:DEJAVU,color:'#111'}}
];
const yAxis=[
 {gridIndex:0,type:'value',min:-152,max:163,axisLine:lineOff,splitLine:{show:false},
  axisTick:{show:true,customValues:pcaYTicks,length:5.5,lineStyle:{color:'#000',width:3}},
  axisLabel:{customValues:pcaYTicks,formatter:MINUS,color:'#333',fontSize:17.4,fontFamily:SANS,margin:10},
  name:'Dim2 (7.3%)',nameLocation:'middle',nameGap:53,nameTextStyle:{fontSize:21,fontFamily:SANS,color:'#111'}},
 {gridIndex:1,type:'value',min:0,max:4.24,axisLine:{show:true,onZero:false,lineStyle:{color:'#000',width:2}},splitLine:{show:false},
  axisTick:{show:true,customValues:volYTicks,length:12,lineStyle:{color:'#000',width:1.5}},
  axisLabel:{customValues:volYTicks,rotate:90,color:'#111',fontSize:18,fontFamily:SANS,margin:24},
  name:'\u2212log10(P.Value)',nameLocation:'middle',nameGap:68,nameTextStyle:{fontSize:19,fontFamily:SANS,color:'#111'}},
 {gridIndex:2,type:'category',inverse:true,position:'right',data:geneNames,axisLine:{show:false},axisTick:{show:false},splitLine:{show:false},
  axisLabel:{color:'#111',fontSize:12.5,fontFamily:SANS,margin:5,interval:0}},
 hiddenCat(1,{gridIndex:3}),hiddenCat(20,{gridIndex:4,inverse:true}),
 {gridIndex:5,type:'value',min:-4,max:4,interval:1,position:'right',axisLine:{show:false},axisTick:{show:false},splitLine:{show:false},
  axisLabel:{margin:8,color:'#222',fontSize:16,fontFamily:SANS,formatter:v=>scaleTicks.includes(v)?MINUS(v):''}},
 {gridIndex:6,type:'value',min:0,max:1320,inverse:true,show:false},
 {gridIndex:7,type:'category',inverse:true,position:'right',boundaryGap:false,data:['',...termLabels,''],axisLine:{show:false},axisTick:{show:false},splitLine:{show:false},
  axisLabel:{margin:9,interval:0,align:'left',formatter:v=>v?'{t|'+v+'}':'',
   rich:{t:{color:'#111',fontSize:25,fontFamily:DEJAVU,padding:[6,0,0,0]}}}}
];
const poly=(pts,fill,stroke,lw,g)=>({type:'custom',xAxisIndex:g,yAxisIndex:g,z:3,silent:true,clip:false,data:[[0,0.5]],
  renderItem:(p,api)=>({type:'polygon',shape:{points:pts.map(q=>api.coord(q))},style:{fill,stroke:stroke||'none',lineWidth:lw||0}})});
const ellipseOutline=e=>{const pts=[];for(let d=0;d<360;d+=3){const t=d*Math.PI/180;pts.push([e[0]+e[2]*Math.cos(t),e[1]+e[3]*Math.cos(t+e[4]*Math.PI/180)]);}return pts;};
const gl=(k,v,w,c)=>({[k]:v,lineStyle:{width:w,color:c,type:'solid'}});
const dashed=(d,g,w,dash,off)=>({type:'line',xAxisIndex:g,yAxisIndex:g,z:4,silent:true,clip:false,symbol:'none',data:d,
  lineStyle:{color:'#000',width:w,type:dash,dashOffset:off||0,cap:g===1?'round':'butt'}});
const scat=(d,g,sym,size,color,border,z)=>({type:'scatter',xAxisIndex:g,yAxisIndex:g,z:z||5,silent:true,data:d,symbol:sym,symbolSize:size,
  itemStyle:{color,opacity:1,borderColor:border||null,borderWidth:border?1:0}});

/* network series */
const nodes=netNodes.map(n=>({name:n[0],value:[n[1],n[2]],symbolSize:n[3]<0?0:(netNodeSize[n[0]]||10),
  itemStyle:n[3]<0?{opacity:0}:{color:groupColors[n[3]],borderColor:'#1b7fa6',borderWidth:1.8}}));
const mkEdges=(list,w,c,o)=>list.map((e,i)=>{const [s,t]=e.split('-');return {source:s,target:t,lineStyle:{width:w,color:c,opacity:o,curveness:((i%5)-2)*.07}};});
const links=[...mkEdges(netLight,2.8,'#b5a0d6',.75),...mkEdges(netDark,2,'#5a2ea0',.95),...mkEdges(netStrong,3.6,'#55299c',1)];

const series=[
 Object.assign(poly(ellipseOutline(pcaRedEllipse),'rgba(228,107,98,.1)',RED,3.5,0),{
   markLine:{silent:true,symbol:'none',z:1,label:{show:false},animation:false,data:[
     ...pcaXTicks.map(v=>gl('xAxis',v,3,'#ebebeb')),...pcaXMinor.map(v=>gl('xAxis',v,1.5,'#eeeeee')),
     ...pcaYTicks.map(v=>gl('yAxis',v,3,'#ebebeb')),...pcaYMinor.map(v=>gl('yAxis',v,1.5,'#eeeeee'))]}}),
 poly(ellipseOutline(pcaTealEllipse),'rgba(0,181,189,.12)',TEAL,3.5,0),
 dashed([[-333,0],[325,0]],0,3.5,[16,12]),
 dashed([[0,155.4],[0,-152]],0,3.5,[15,11]),
 scat(pcaRed,0,'circle',9,'#e4716a','#fff'),scat(pcaRedCentre,0,'circle',15,'#f8665e'),
 scat(pcaTeal,0,'triangle',11,'#12b1ba','#fff'),scat(pcaTealCentre,0,'triangle',20,'#0fb3bc'),

 poly(volBlackMass,'#000','#000',3,1),
 scat(volBlack,1,'circle',7.5,'#000'),
 poly(volBlueMass,'#1e90ff','#1e90ff',3,1),
 scat(volBlue,1,'circle',7.5,'#1e90ff'),
 poly(volPinkMass,'#ff82ab','#ff82ab',3,1),
 scat(volPink,1,'circle',7.5,'#ff7fa9'),
 Object.assign(dashed([[0,4.24],[0,0.4]],1,6.5,[22,37],16.5),{z:6}),

 {type:'heatmap',xAxisIndex:2,yAxisIndex:2,data:heatData,silent:true,itemStyle:{borderColor:'#999',borderWidth:2}},
 {type:'heatmap',xAxisIndex:3,yAxisIndex:3,data:sampleGroup.map((g,i)=>[i,0,g==='Control'?2:3]),silent:true,itemStyle:{borderColor:'#999',borderWidth:2}},
 {type:'heatmap',xAxisIndex:4,yAxisIndex:4,data:geneDirect.map((g,i)=>[0,i,g==='Up'?0:1]),silent:true,itemStyle:{borderColor:'#999',borderWidth:2}},
 {type:'custom',xAxisIndex:5,yAxisIndex:5,silent:true,clip:false,data:bins.map(i=>[0,i]),
  renderItem:(p,api)=>{const i=api.value(1),a=api.coord([0,SCALE_LO+(i+1)*STEP]),b=api.coord([0,SCALE_LO+i*STEP]),s=api.size([1,1]);
    return {type:'rect',shape:{x:a[0]-s[0]/2,y:a[1],width:s[0],height:b[1]-a[1]},style:{fill:binColor(i)}};}},

 {type:'graph',coordinateSystem:'cartesian2d',xAxisIndex:6,yAxisIndex:6,layout:'none',silent:true,roam:false,symbol:'circle',
  data:nodes,links,label:{show:false},edgeSymbol:['none','none'],emphasis:{disabled:true},z:3},

 {type:'bar',xAxisIndex:7,yAxisIndex:7,z:3,barWidth:27,silent:true,
  data:[null,...termValues.map((v,i)=>({value:v,itemStyle:{color:barColors[i]}})),null],
  itemStyle:{borderColor:'#555',borderWidth:2},
  markLine:{silent:true,symbol:'none',z:1,label:{show:false},animation:false,data:barGridLines.map(v=>gl('xAxis',v,3,'#b5b5b5'))}}
];

const visualMap=[
 {show:false,type:'piecewise',seriesIndex:series.findIndex(s=>s.type==='heatmap'),dimension:2,
  pieces:bins.map(i=>({min:SCALE_LO+i*STEP-(i===0?5:0),max:SCALE_LO+(i+1)*STEP+(i===BINS-1?5:0),color:binColor(i)}))},
 {show:false,type:'piecewise',seriesIndex:[series.findIndex(s=>s.type==='heatmap')+1,series.findIndex(s=>s.type==='heatmap')+2],dimension:2,
  pieces:[{value:0,color:'#ffff00'},{value:1,color:'#00ff00'},{value:2,color:'#0000ff'},{value:3,color:'#ff0000'}]}
];

const chart=echarts.init(document.getElementById('c'),null,{renderer:'canvas',width:1902,height:2339});
chart.setOption({animation:false,backgroundColor:'#fff',tooltip:{show:false},grid,xAxis,yAxis,series,visualMap,graphic});
</script></body></html>
